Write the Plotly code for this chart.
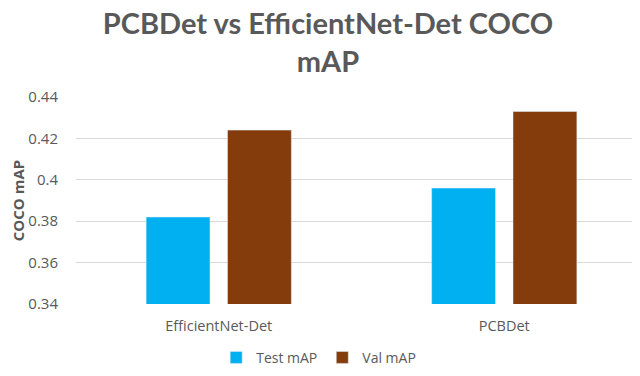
import plotly.graph_objects as go

categories = ["EfficientNet-Det", "PCBDet"]
test_map = [0.382, 0.396]
val_map = [0.424, 0.433]
y_ticks = [0.34, 0.36, 0.38, 0.40, 0.42, 0.44]
y_ticklabels = ["0.34", "0.36", "0.38", "0.4", "0.42", "0.44"]

grey = "#595959"

fig = go.Figure()
fig.add_trace(go.Bar(x=categories, y=test_map, name="Test mAP", marker=dict(color="#00B0F0")))
fig.add_trace(go.Bar(x=categories, y=val_map, name="Val mAP", marker=dict(color="#843C0C")))

fig.update_layout(
    width=640, height=376,
    paper_bgcolor="white", plot_bgcolor="white",
    margin=dict(l=68, r=1, t=89, b=80, autoexpand=False),
    barmode="group", bargap=0.43, bargroupgap=0.215,
    font=dict(family="Open Sans", color=grey, size=14),
    title=dict(text="<b>PCBDet vs EfficientNet-Det COCO<br>mAP</b>",
               font=dict(family="Lato", size=29, color=grey),
               x=0.5, xanchor="center", y=0.93, yanchor="middle"),
    legend=dict(orientation="h", x=0.425, xanchor="center", y=-0.26, yanchor="middle",
                font=dict(size=14, color=grey), itemwidth=30, traceorder="normal"),
    xaxis=dict(showgrid=False, showline=False, ticks="outside", ticklen=9, tickcolor="white",
               tickfont=dict(size=14.5, color=grey)),
    yaxis=dict(range=[0.34, 0.44], tickvals=y_ticks, ticktext=y_ticklabels,
               showgrid=True, gridcolor="#d9d9d9", gridwidth=1, zeroline=False,
               ticks="outside", ticklen=14, tickcolor="white", tickfont=dict(size=15, color=grey),
               title=dict(text="<b>COCO mAP</b>", font=dict(size=15, color=grey), standoff=2)),
)

fig.write_html("out.html")
